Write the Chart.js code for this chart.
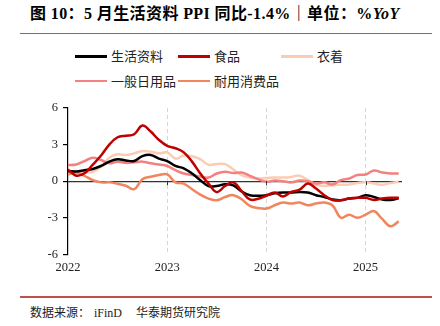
<!DOCTYPE html>
<html>
<head>
<meta charset="utf-8">
<script src="https://cdn.jsdelivr.net/npm/chart.js@4.4.1/dist/chart.umd.min.js"></script>
<style>
  html, body { margin: 0; padding: 0; background: #fff; }
  #page { position: relative; width: 440px; height: 326px; overflow: hidden; }
  .abs { position: absolute; white-space: nowrap; }
  #title { left: 30px; top: 3px; font: bold 16px "Liberation Serif", "Noto Sans CJK SC"; letter-spacing: 0.4px; color: #000; line-height: 22px; }
  #title i { font-style: italic; }
  .rule { position: absolute; left: 20px; width: 412px; height: 1.5px; background: #c0504d; }
  .leg { position: absolute; height: 16px; width: 100px; white-space: nowrap; font: 13px "Noto Sans CJK SC"; color: #222; line-height: 16px; }
  .leg span.ln { position: absolute; left: 0; top: 7px; width: 32px; height: 2.5px; }
  .leg span.tx { position: absolute; left: 36px; top: 0; }
  #foot { font: 12px "Liberation Serif", "Noto Sans CJK SC"; color: #222; line-height: 16px; }
  #box { position: absolute; left: 0; top: 95px; width: 440px; height: 190px; }
</style>
</head>
<body>
<div id="page">
  <div id="title" class="abs">图 10：5 月生活资料 PPI 同比-1.4%｜单位：%<i>YoY</i></div>
  <div class="rule" style="top:32.5px"></div>
  <div id="legend"></div>
  <div id="box"><canvas id="chart"></canvas></div>
  <div class="rule" style="top:296px"></div>
  <div id="foot" class="abs" style="left:30px; top:304.5px">数据来源：<span style="margin-left:4px">iFinD</span><span style="margin-left:14px">华泰期货研究院</span></div>
</div>
<script>
// 2022-01 .. 2025-05, monthly
const months = [];
for (let y = 2022; y <= 2025; y++) {
  for (let m = 1; m <= 12; m++) {
    if (y === 2025 && m > 5) break;
    months.push(y + '-' + String(m).padStart(2, '0'));
  }
}

const seriesNames = ['生活资料', '食品', '衣着', '一般日用品', '耐用消费品'];
const seriesColors = ['#000000', '#c00000', '#fccbb3', '#f4817f', '#ef865d'];

const livingGoods = [0.82, 0.8, 0.9, 1.0, 1.25, 1.6, 1.8, 1.7, 1.65, 2.05, 2.15, 1.85, 1.65, 1.25, 1.05, 0.63, 0.08, -0.4, -0.4, -0.25,
  -0.35, -0.85, -1.15, -1.2, -1.15, -1.0, -0.93, -0.93, -0.88, -0.93, -1.15, -1.3, -1.5, -1.57, -1.43, -1.37, -1.15, -1.3, -1.5, -1.55, -1.4];
const food = [0.95, 0.45, 0.65, 1.35, 2.1, 3.0, 3.6, 3.73, 3.85, 4.56, 4.07, 3.38, 2.9, 2.7, 2.36, 1.6, 0.63, -0.2, -0.9, -0.4,
  -0.1, -0.82, -1.5, -1.45, -1.2, -0.93, -1.25, -0.88, -0.7, -0.2, -0.6, -1.15, -1.55, -1.57, -1.43, -1.37, -1.37, -1.55, -1.43, -1.37, -1.37];
const clothing = [0.65, 0.82, 0.71, 0.77, 1.18, 1.92, 2.2, 2.14, 2.28, 2.47, 2.42, 2.28, 2.36, 1.85, 2.1, 2.05, 1.8, 1.35, 1.4, 1.4,
  0.95, 0.5, 0.3, 0.22, 0.25, 0.3, 0.3, 0.35, 0.45, 0.1, -0.3, -0.38, -0.33, -0.3, -0.28, -0.15, -0.1, -0.2, -0.3, -0.15, -0.05];
const dailyUse = [1.32, 1.37, 1.65, 1.92, 1.73, 1.46, 1.6, 1.5, 1.54, 1.6, 1.46, 1.37, 1.24, 0.9, 0.63, 0.5, 0.36, 0.3, 0.63, 0.77,
  0.66, 0.71, 0.44, 0.16, -0.05, 0.05, 0.0, -0.1, 0.05, 0.0, -0.2, -0.1, -0.27, 0.08, 0.22, 0.5, 0.55, 0.88, 0.71, 0.63, 0.63];
const durables = [0.55, 0.71, 0.44, 0.08, -0.1, -0.1, -0.22, -0.38, -0.66, 0.16, 0.36, 0.5, 0.55, -0.1, -0.2, -0.66, -1.1, -1.43, -1.57, -1.3,
  -1.15, -1.48, -2.03, -2.2, -2.25, -1.98, -1.76, -1.84, -1.76, -1.98, -1.84, -1.76, -2.0, -3.0, -2.75, -3.0, -2.75, -2.45, -3.1, -3.7, -3.3];

const seriesValues = [livingGoods, food, clothing, dailyUse, durables];
const drawOrder = [1, 0, 4, 3, 2]; // food on top, clothing at the back

const yearTicks = [0, 12, 24, 36];
const yearLabels = ['2022', '2023', '2024', '2025'];
const yTicks = [-6, -3, 0, 3, 6];

// legend
const legendPos = [[75, 48], [178, 48], [281, 48], [75, 72.5], [178, 72.5]];
const legend = document.getElementById('legend');
seriesNames.forEach((name, i) => {
  const d = document.createElement('div');
  d.className = 'leg';
  d.style.left = legendPos[i][0] + 'px';
  d.style.top = legendPos[i][1] + 'px';
  d.innerHTML = '<span class="ln" style="background:' + seriesColors[i] + '"></span><span class="tx">' + name + '</span>';
  legend.appendChild(d);
});

const zeroTicks = {
  id: 'zeroTicks',
  afterDraw(chart) {
    const x = chart.scales.x, y = chart.scales.y;
    const y0 = y.getPixelForValue(0);
    const c = chart.ctx;
    c.save();
    c.strokeStyle = '#333';
    c.lineWidth = 1;
    yearTicks.slice(1).forEach(v => {
      const px = Math.round(x.getPixelForValue(v)) + 0.5;
      c.beginPath();
      c.moveTo(px, y0);
      c.lineTo(px, y0 + 4);
      c.stroke();
    });
    c.restore();
  }
};

new Chart(document.getElementById('chart'), {
  type: 'line',
  data: {
    datasets: seriesNames.map((name, i) => ({
      label: name,
      data: seriesValues[i].map((v, j) => ({ x: j, y: v })),
      borderColor: seriesColors[i],
      borderWidth: 2.5,
      pointRadius: 0,
      tension: 0.4,
      fill: false,
      order: drawOrder[i]
    }))
  },
  options: {
    responsive: true,
    maintainAspectRatio: false,
    animation: false,
    layout: { padding: { left: 0, right: 38, top: 13, bottom: 0 } },
    plugins: { legend: { display: false }, tooltip: { enabled: false } },
    scales: {
      x: {
        type: 'linear',
        min: 0,
        max: months.length - 1 + 0.4,
        afterBuildTicks: s => { s.ticks = yearTicks.map(v => ({ value: v })); },
        afterFit: s => { s.height = 30.7; },
        ticks: {
          autoSkip: false,
          maxRotation: 0,
          padding: 6,
          color: '#222',
          font: { family: 'Liberation Serif', size: 12.5 },
          callback: v => yearLabels[yearTicks.indexOf(v)]
        },
        grid: {
          drawTicks: false,
          color: c => (c.tick && c.tick.value === 0 ? 'rgba(0,0,0,0)' : '#d6d6d6'),
          lineWidth: 1
        },
        border: { display: false, dash: [4, 3] }
      },
      y: {
        min: -6,
        max: 6,
        afterBuildTicks: s => { s.ticks = yTicks.map(v => ({ value: v })); },
        afterFit: s => { s.width = 68; },
        ticks: {
          padding: 5,
          color: '#222',
          font: { family: 'Liberation Serif', size: 12.5 }
        },
        grid: {
          color: c => (c.tick && c.tick.value === 0 ? '#333' : 'rgba(0,0,0,0)'),
          lineWidth: 1.2,
          tickColor: '#000',
          tickLength: 5
        },
        border: { display: true, color: '#000', width: 1.2 }
      }
    }
  },
  plugins: [zeroTicks]
});
</script>
</body>
</html>
